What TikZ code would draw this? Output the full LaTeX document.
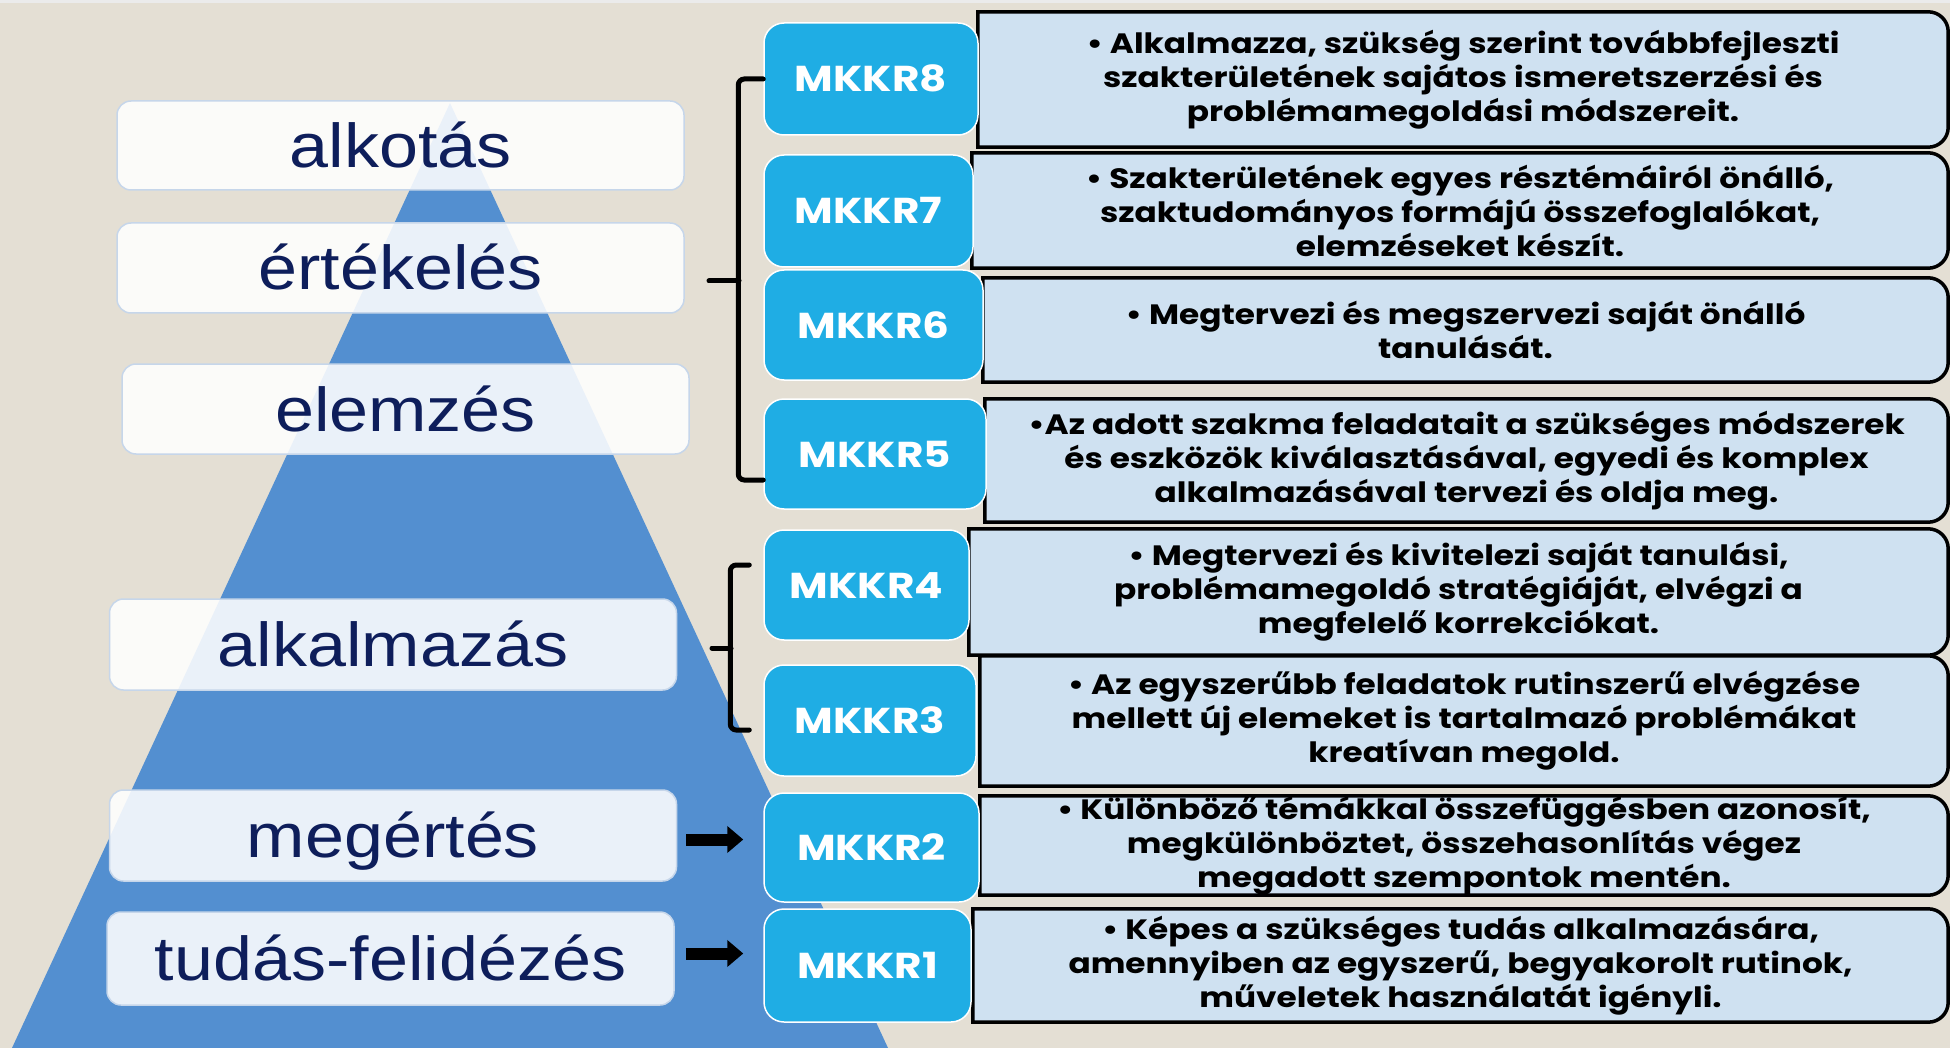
\documentclass[tikz,border=0pt]{standalone}
\usepackage{fontspec}
\usepackage{tikz}
\usetikzlibrary{arrows.meta, positioning}
\setmainfont{Liberation Sans}
\newfontfamily\levelfont[FakeStretch=1.13]{Liberation Sans}
\newfontfamily\gothfont[FakeStretch=1.17]{Poppins}

\definecolor{bgbeige}{HTML}{E4DFD4}
\definecolor{pyrblue}{HTML}{538FD0}
\definecolor{mkkrcyan}{HTML}{1FADE4}
\definecolor{descblue}{HTML}{CFE1F1}
\definecolor{navy}{HTML}{0E1E5B}
\definecolor{boxedge}{HTML}{C6D6EA}

\pgfdeclarelayer{back}
\pgfsetlayers{back,main}

\begin{document}
\begin{tikzpicture}[
  x=1pt, y=-1pt,
  levelbox/.style={draw=boxedge, line width=1.5pt, fill=white, fill opacity=0.88, text opacity=1,
    rounded corners=14pt, text=navy, font=\levelfont\fontsize{62}{70}\selectfont,
    text height=44pt, text depth=0pt, inner sep=0pt, minimum width=567pt},
  mkkr/.style={draw=white, line width=1.5pt, fill=mkkrcyan, rounded corners=20pt, text=white,
    font=\gothfont\bfseries\fontsize{36}{40}\selectfont, text height=26pt, text depth=0pt, inner sep=0pt},
  desc/.style={inner sep=0pt, align=center, font=\gothfont\bfseries\fontsize{28}{34}\selectfont},
  descframe/.style={draw=black, line width=3.5pt, fill=descblue},
  bracket/.style={draw, line width=5pt, rounded corners=6pt, line cap=round},
  fatarrow/.style={draw, line width=12pt, -{Triangle[length=16pt, width=26pt]}}
]
\useasboundingbox (0,0) rectangle (1950,1048);
\begin{pgfonlayer}{back}
  \fill[bgbeige] (0,0) rectangle (1950,1048);
  \fill[black!8] (0,0) rectangle (1950,3);
\end{pgfonlayer}

% pyramid
\fill[pyrblue] (450,103) -- (12,1048) -- (888,1048) -- cycle;

\node[levelbox, minimum height=89pt] (alkotas) at (400.5,145.5) {alkotás};
\node[levelbox, minimum height=90pt] (ertekeles) at (400.5,268) {értékelés};
\node[levelbox, minimum height=90pt] (elemzes) at (405.5,409) {elemzés};
\node[levelbox, minimum height=91pt] (alkalmazas) at (393,644.5) {alkalmazás};
\node[levelbox, minimum height=91pt] (megertes) at (393,835.5) {megértés};
\node[levelbox, minimum height=93pt] (tudas) at (390.5,958.5) {tudás-felidézés};

\node[mkkr, minimum width=214pt, minimum height=112pt] (m8) at (871,79) {MKKR8};
\node[mkkr, minimum width=209pt, minimum height=112pt] (m7) at (868.5,211) {MKKR7};
\node[mkkr, minimum width=219pt, minimum height=110pt] (m6) at (873.5,325) {MKKR6};
\node[mkkr, minimum width=222pt, minimum height=110pt] (m5) at (875,454) {MKKR5};
\node[mkkr, minimum width=205pt, minimum height=110pt] (m4) at (866.5,585) {MKKR4};
\node[mkkr, minimum width=212pt, minimum height=111pt] (m3) at (870,720.5) {MKKR3};
\node[mkkr, minimum width=215pt, minimum height=109pt] (m2) at (871.5,847.5) {MKKR2};
\node[mkkr, minimum width=207pt, minimum height=113pt] (m1) at (867.5,965.5) {MKKR1};

\node[desc, minimum width=970pt, minimum height=135pt] (d8) at (1463,79.5)
  {• Alkalmazza, szükség szerint továbbfejleszti\\ szakterületének sajátos ismeretszerzési és\\ problémamegoldási módszereit.};
\node[desc, minimum width=976pt, minimum height=115pt] (d7) at (1460,210.5)
  {• Szakterületének egyes résztémáiról önálló,\\ szaktudományos formájú összefoglalókat,\\ elemzéseket készít.};
\node[desc, minimum width=965pt, minimum height=104pt] (d6) at (1465.5,330)
  {• Megtervezi és megszervezi saját önálló\\ tanulását.};
\node[desc, minimum width=963pt, minimum height=123pt] (d5) at (1466.5,460.5)
  {•Az adott szakma feladatait a szükséges módszerek\\ és eszközök kiválasztásával, egyedi és komplex\\ alkalmazásával tervezi és oldja meg.};
\node[desc, minimum width=979pt, minimum height=126pt] (d4) at (1458.5,592)
  {• Megtervezi és kivitelezi saját tanulási,\\ problémamegoldó stratégiáját, elvégzi a\\ megfelelő korrekciókat.};
\node[desc, minimum width=968pt, minimum height=130pt] (d3) at (1464,721)
  {• Az egyszerűbb feladatok rutinszerű elvégzése\\ mellett új elemeket is tartalmazó problémákat\\ kreatívan megold.};
\node[desc, minimum width=968pt, minimum height=99pt] (d2) at (1464,845.5)
  {• Különböző témákkal összefüggésben azonosít,\\ megkülönböztet, összehasonlítás végez\\ megadott szempontok mentén.};
\node[desc, minimum width=975pt, minimum height=113pt] (d1) at (1460.5,965.5)
  {• Képes a szükséges tudás alkalmazására,\\ amennyiben az egyszerű, begyakorolt rutinok,\\ műveletek használatát igényli.};

\begin{pgfonlayer}{back}
  \draw[descframe] (d8.north west) [rounded corners=20pt] -- (d8.north east) -- (d8.south east) [sharp corners] -- (d8.south west) -- cycle;
  \draw[descframe] (d7.north west) [rounded corners=20pt] -- (d7.north east) -- (d7.south east) [sharp corners] -- (d7.south west) -- cycle;
  \draw[descframe] (d6.north west) [rounded corners=20pt] -- (d6.north east) -- (d6.south east) [sharp corners] -- (d6.south west) -- cycle;
  \draw[descframe] (d5.north west) [rounded corners=20pt] -- (d5.north east) -- (d5.south east) [sharp corners] -- (d5.south west) -- cycle;
  \draw[descframe] (d4.north west) [rounded corners=20pt] -- (d4.north east) -- (d4.south east) [sharp corners] -- (d4.south west) -- cycle;
  \draw[descframe] (d3.north west) [rounded corners=20pt] -- (d3.north east) -- (d3.south east) [sharp corners] -- (d3.south west) -- cycle;
  \draw[descframe] (d2.north west) [rounded corners=20pt] -- (d2.north east) -- (d2.south east) [sharp corners] -- (d2.south west) -- cycle;
  \draw[descframe] (d1.north west) [rounded corners=20pt] -- (d1.north east) -- (d1.south east) [sharp corners] -- (d1.south west) -- cycle;
\end{pgfonlayer}

% braces
\coordinate (tipA) at (709,281);
\coordinate (tipB) at (712,648);
\draw[bracket] (m8.west) -- ++(-25,0) |- ([yshift=-26pt]m5.west);
\draw[bracket] (tipA) -- ++(30,0);
\draw[bracket] ([xshift=-14pt, yshift=20pt]m4.west) -- ++(-19,0) |- ([xshift=-14pt, yshift=-9.5pt]m3.west);
\draw[bracket] (tipB) -- ++(19,0);

% arrows
\draw[fatarrow, shorten <=9pt, shorten >=20pt] ([yshift=-4pt]megertes.east) -- ([yshift=-4pt]megertes.east -| m2.west);
\draw[fatarrow, shorten <=11pt, shorten >=20pt] ([yshift=5pt]tudas.east) -- ([yshift=5pt]tudas.east -| m1.west);

\end{tikzpicture}
\end{document}
